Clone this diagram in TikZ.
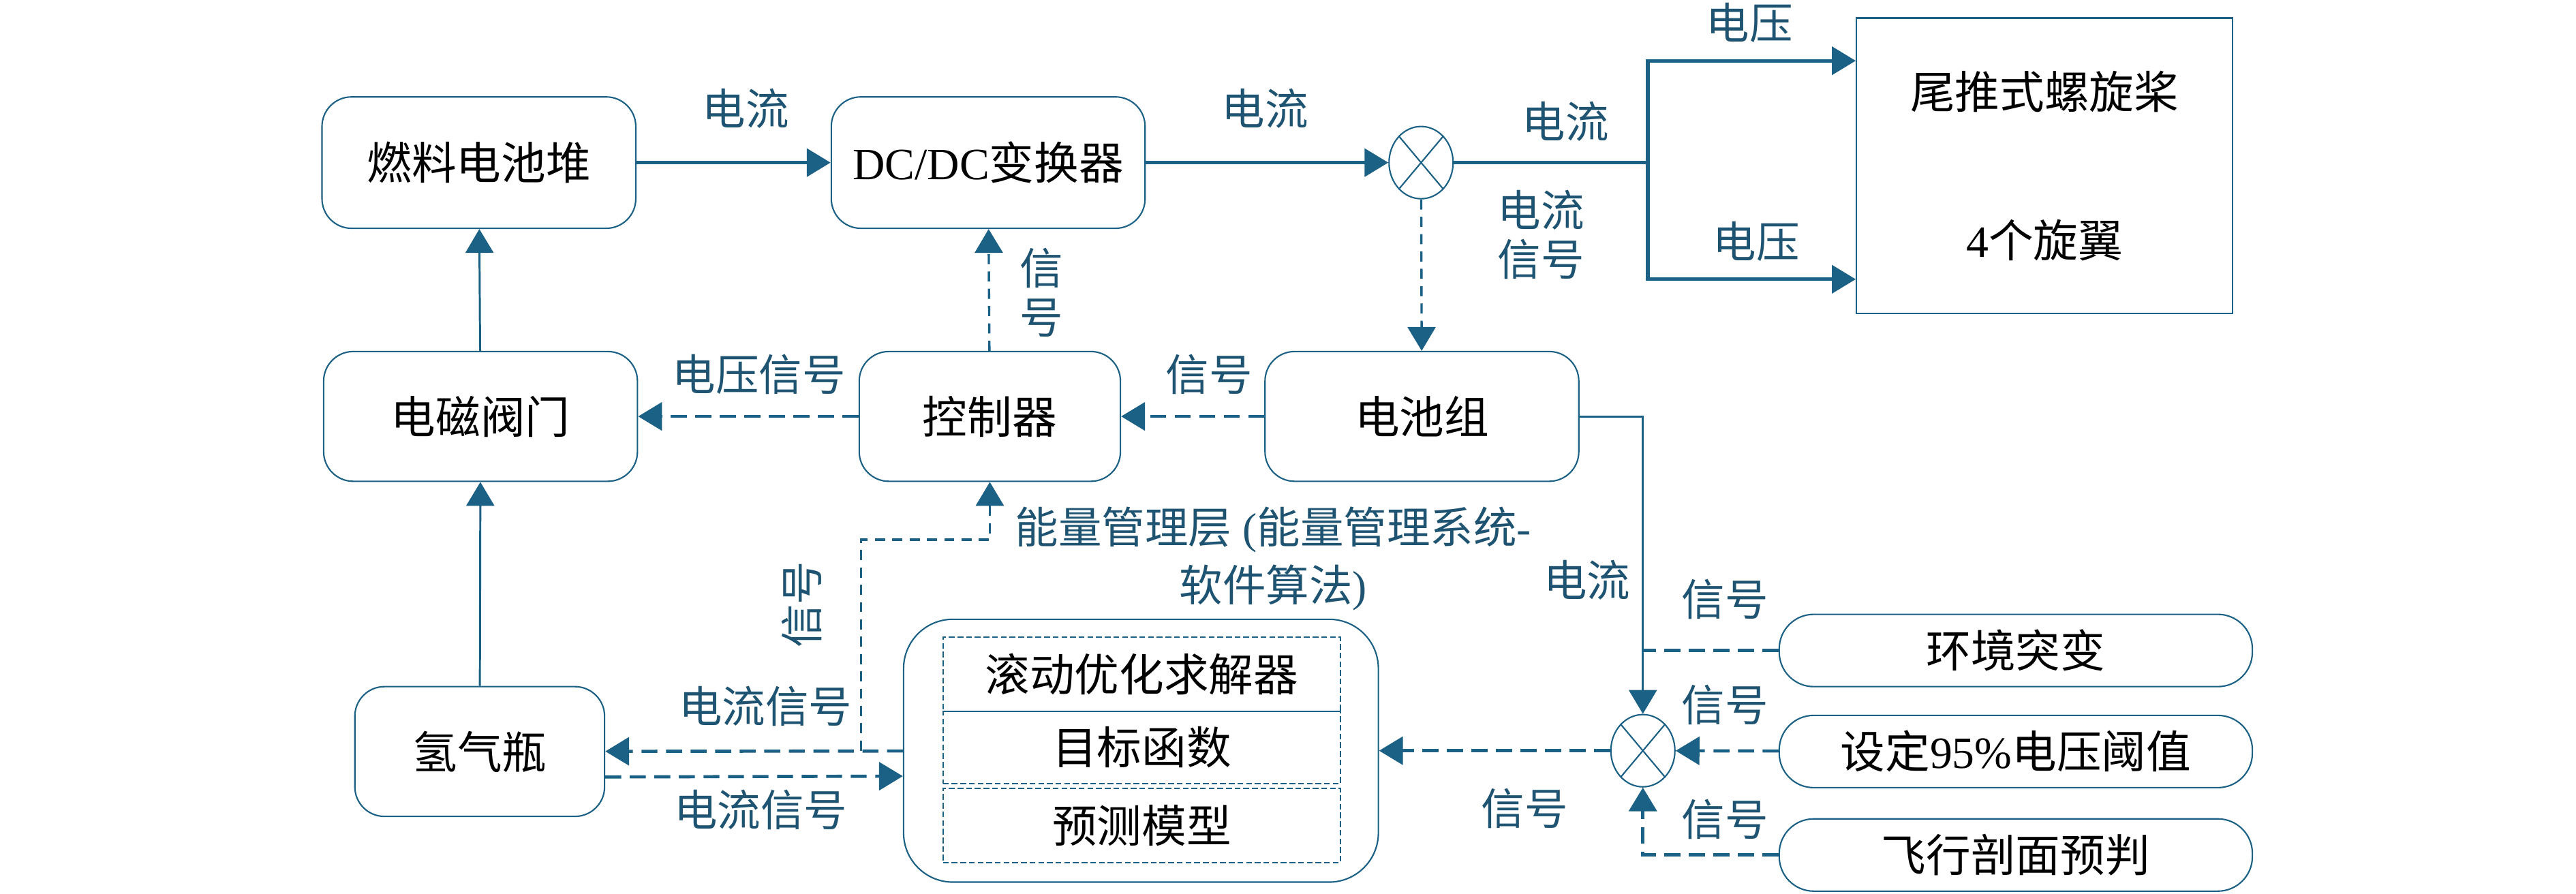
\documentclass[tikz,border=0pt]{standalone}
\usepackage{fontspec}
\setmainfont{Noto Sans CJK SC}
\newfontfamily\lat{Liberation Serif}
\usetikzlibrary{arrows.meta,shapes.geometric}

\definecolor{linec}{RGB}{27,96,133}
\definecolor{labc}{RGB}{30,84,114}

\tikzset{
  blk/.style={draw=linec,line width=0.5pt,rounded corners=0.36cm,
    minimum width=3.82cm,minimum height=1.6cm,inner sep=0pt,
    font=\fontsize{15.5}{18}\selectfont},
  inbox/.style={draw=linec,line width=0.45pt,dash pattern=on 2pt off 1pt,
    minimum width=4.84cm,minimum height=0.9cm,inner sep=0pt},
  mult/.style={ellipse,draw=linec,line width=0.5pt,
    minimum width=0.78cm,minimum height=0.88cm,inner sep=0pt},
  tip/.style={-{Triangle[length=0.29cm,width=0.34cm]}},
  pw/.style={draw=linec,line width=1.2pt,tip},
  pwline/.style={draw=linec,line width=1.2pt},
  fl/.style={draw=linec,line width=0.7pt,tip},
  sig/.style={draw=linec,line width=1.1pt,dash pattern=on 5.5pt off 3pt,tip},
  sigline/.style={draw=linec,line width=1.1pt,dash pattern=on 5.5pt off 3pt},
  sigv/.style={draw=linec,line width=0.8pt,dash pattern=on 3.5pt off 2.5pt,tip},
}

\begin{document}
\begin{tikzpicture}[x=0.2cm,y=-0.2cm]

  \useasboundingbox (0,0) rectangle (156.8,54.4);

  \begin{scope}[every node/.style={blk}]
    \node (fuel)  at (29.15,9.9)  {燃料电池堆};
    \node (dcdc)  at (60.15,9.9)  {{\lat DC/DC}变换器};
    \node (valve) at (29.25,25.35) [minimum height=1.58cm] {电磁阀门};
    \node (ctrl)  at (60.25,25.35) [minimum height=1.58cm,minimum width=3.18cm] {控制器};
    \node (batt)  at (86.55,25.35) [minimum height=1.58cm] {电池组};
    \node (h2)    at (29.2,45.75)  [minimum height=1.58cm,minimum width=3.04cm] {氢气瓶};
    \node (mpc)   at (69.45,45.7)  [minimum width=5.78cm,minimum height=3.2cm,rounded corners=0.6cm] {};
    \node (env)   at (122.7,39.6)  [minimum width=5.76cm,minimum height=0.88cm,rounded corners=0.42cm] {环境突变};
    \node (thr)   at (122.7,45.75) [minimum width=5.76cm,minimum height=0.88cm,rounded corners=0.42cm] {设定{\lat 95\%}电压阈值};
    \node (fly)   at (122.7,52.05) [minimum width=5.76cm,minimum height=0.88cm,rounded corners=0.42cm] {飞行剖面预判};
  \end{scope}

  \node[draw=linec,line width=0.5pt,minimum width=4.58cm,minimum height=3.6cm,
        align=center,font=\fontsize{15.5}{18}\selectfont] (prop) at (124.45,10.1)
        {尾推式螺旋桨\\[1.17cm]{\lat 4}个旋翼};

  \begin{scope}[every node/.style={inbox,font=\fontsize{15.5}{18}\selectfont}]
    \node (solver) at (69.5,41.05) {滚动优化求解器};
    \node (obj)    at (69.5,45.5) [minimum height=0.88cm] {目标函数};
    \node (pred)   at (69.5,50.25) {预测模型};
  \end{scope}

  \node[mult] (mul1) at (86.5,9.9) {};
  \node[mult] (mul2) at (100,45.7) {};
  \foreach \m in {mul1,mul2}{
    \draw[linec,line width=0.5pt] (\m.130) -- (\m.-50) (\m.50) -- (\m.-130);
  }

  \coordinate (jp) at (100.3,9.9);
  \coordinate (jm) at (52.4,45.7);
  \coordinate (jc) at (60.25,32.85);
  \coordinate (je) at (100,39.6);

  % power path
  \path (fuel) edge[pw] (dcdc)
        (dcdc) edge[pw] (mul1);
  \draw[pwline] (mul1) -- (jp);
  \draw[pw] (jp) |- ([yshift=1.28cm]prop.west);
  \draw[pw] (jp) |- ([yshift=-1.38cm]prop.west);

  % hydrogen side
  \path (valve) edge[fl] (fuel)
        (h2) edge[fl] (valve);

  % signals
  \path (mul1) edge[sigv] (batt)
        (ctrl) edge[sigv] (dcdc)
        (ctrl) edge[sig] (valve)
        (batt) edge[sig] (ctrl);
  \draw[fl] (batt) -| (mul2);
  \draw[sigline] (env) -- (je);
  \path (thr) edge[sig] (mul2)
        (mul2) edge[sig] (mpc)
        (mpc) edge[sig] (h2);
  \draw[sig] (fly) -| (mul2);
  \draw[sig] ([yshift=-0.31cm]h2.east) -- ([yshift=-0.31cm]mpc.west);
  \draw[sigv] (jm) |- (jc) -- (ctrl);

  \begin{scope}[every node/.style={text=labc,align=center,inner sep=0pt,
      font=\fontsize{15}{17}\selectfont}]
    \node (l1)  at (45.4,6.6)   {电流};
    \node (l2)  at (77.0,6.6)   {电流};
    \node (l3)  at (106.5,1.4)  {电压};
    \node (l4)  at (95.3,7.4)   {电流};
    \node (l5)  at (93.8,14.3)  {电流\\信号};
    \node (l6)  at (106.9,14.7) {电压};
    \node (l7)  at (63.4,17.8)  {信\\号};
    \node (l8)  at (46.2,22.8)  {电压信号};
    \node (l9)  at (73.6,22.8)  {信号};
    \node (l10) at (77.5,34.0)  {能量管理层{\lat\ (}能量管理系统{\lat -}\\[3pt]软件算法{\lat )}};
    \node[rotate=90] (l11) at (48.8,36.8) {信号};
    \node (l12) at (96.6,35.3)  {电流};
    \node (l13) at (46.6,43.0)  {电流信号};
    \node (l14) at (46.3,49.3)  {电流信号};
    \node (l15) at (105.0,36.5) {信号};
    \node (l16) at (105.0,42.9) {信号};
    \node (l17) at (105.0,49.9) {信号};
    \node (l18) at (92.8,49.2)  {信号};
  \end{scope}

\end{tikzpicture}
\end{document}
